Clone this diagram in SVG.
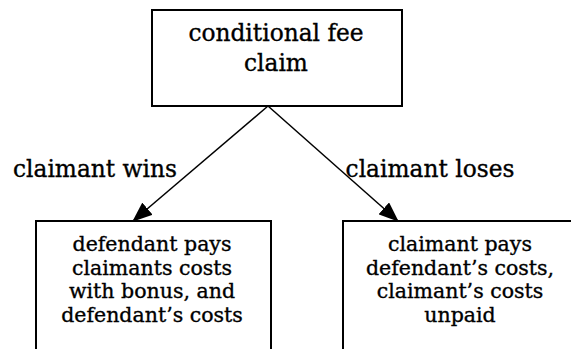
<svg xmlns="http://www.w3.org/2000/svg" width="571" height="349" viewBox="0 0 571 349">
<style>
.box{fill:#fff;stroke:#000;stroke-width:2}
.t{font-family:"DejaVu Serif","Liberation Serif",serif;font-size:20.5px;fill:#000;stroke:#000;stroke-width:0.35;text-anchor:middle}
.big{font-size:23.3px}
.e{stroke:#000;stroke-width:1.5;fill:none}
</style>
<defs>
<marker id="ah" markerUnits="userSpaceOnUse" markerWidth="20" markerHeight="16" refX="19" refY="8" orient="auto">
<path d="M0,0 L20,8 L0,16 Z" fill="#000"/>
</marker>
</defs>
<rect width="571" height="349" fill="#fff"/>
<g id="connectors">
<line class="e" x1="268" y1="106" x2="133" y2="221" marker-end="url(#ah)"/>
<line class="e" x1="268" y1="106" x2="398" y2="221" marker-end="url(#ah)"/>
<text class="t big" x="95" y="177">claimant wins</text>
<text class="t big" x="430" y="177">claimant loses</text>
</g>
<g id="root">
<rect class="box" x="152" y="10" width="250" height="96"/>
<text class="t big" x="276" y="41">conditional fee</text>
<text class="t big" x="276" y="71">claim</text>
</g>
<g id="wins">
<rect class="box" x="36" y="221" width="235" height="140"/>
<text class="t" x="152" y="251">defendant pays</text>
<text class="t" x="152" y="275">claimants costs</text>
<text class="t" x="152" y="298">with bonus, and</text>
<text class="t" x="152" y="322">defendant’s costs</text>
</g>
<g id="loses">
<rect class="box" x="343" y="221" width="234" height="140"/>
<text class="t" x="460" y="251">claimant pays</text>
<text class="t" x="460" y="275">defendant’s costs,</text>
<text class="t" x="460" y="298">claimant’s costs</text>
<text class="t" x="460" y="322">unpaid</text>
</g>
</svg>
